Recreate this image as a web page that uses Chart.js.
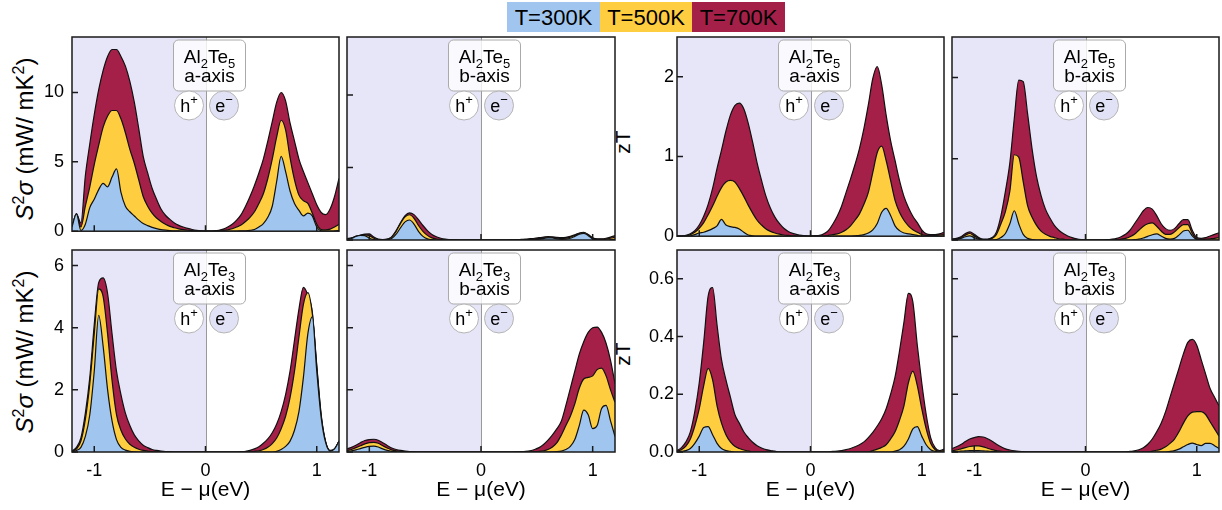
<!DOCTYPE html>
<html>
<head>
<meta charset="utf-8">
<script src="https://cdn.jsdelivr.net/npm/chart.js@4.4.0/dist/chart.umd.min.js"></script>
<style>
  body { margin:0; background:#fff; width:1222px; height:510px; overflow:hidden; position:relative;
         font-family:"Liberation Sans", Arial, Helvetica, sans-serif; color:#000; }
  canvas { position:absolute; }
  #legend { position:absolute; left:507px; top:2px; display:flex; }
  #legend span { display:block; height:30px; line-height:31px; font-size:22px; text-align:center; }
  .yt { position:absolute; white-space:nowrap; transform:translate(-50%,-50%) rotate(-90deg); font-size:21px; }
  .yt.pf { font-size:24px; }
  .yt sup { font-size:16px; vertical-align:0; position:relative; top:-9px; }
</style>
</head>
<body>
<div id="legend"></div>
<div class="yt pf" style="left:25px;top:139px"><i>S</i><sup>2</sup><i>σ</i> (mW/ mK<sup>2</sup>)</div>
<div class="yt pf" style="left:25px;top:352px"><i>S</i><sup>2</sup><i>σ</i> (mW/ mK<sup>2</sup>)</div>
<div class="yt" style="left:623px;top:142px">zT</div>
<div class="yt" style="left:623px;top:354px">zT</div>
<script>
// energy grid (eV), shared by every panel
const energy = [-1.2,-1.16,-1.12,-1.08,-1.04,-1.0,-0.96,-0.92,-0.88,-0.84,
  -0.8,-0.76,-0.72,-0.68,-0.64,-0.6,-0.56,-0.52,-0.48,-0.44,
  -0.4,-0.36,-0.32,-0.28,-0.24,-0.2,-0.16,-0.12,-0.08,-0.04,
  0,0.04,0.08,0.12,0.16,0.2,0.24,0.28,0.32,0.36,
  0.4,0.44,0.48,0.52,0.56,0.6,0.64,0.68,0.72,0.76,
  0.8,0.84,0.88,0.92,0.96,1.0,1.04,1.08,1.12,1.16,1.2];

const temps = ['T=300K', 'T=500K', 'T=700K'];
const xTicks = [-1, 0, 1];
const pfTicksTop = [0, 5, 10];
const ztTicksTop = [0, 1, 2];
const pfTicksBottom = [0, 2, 4, 6];
const ztTicksBottom = [0, 0.2, 0.4, 0.6];

// Al2Te5 a-axis, power factor
const te5aPf300 = [0.3,1.25,0.05,0.5,1.7,2.3,3.0,3.45,3.2,3.9,
  4.5,2.8,1.8,1.4,1.1,0.8,0.55,0.4,0.28,0.18,
  0.12,0.08,0.05,0.03,0.02,0.01,0,0,0,0,
  0,0,0,0,0,0,0.005,0.01,0.02,0.03,
  0.06,0.12,0.3,0.55,1.0,1.8,3.6,5.4,4.3,2.9,
  2.0,1.5,1.1,1.3,1.1,0.3,0.02,0,0,0.02,0.05];
const te5aPf500 = [0.3,1.25,0.3,1.8,3.2,4.8,6.2,7.5,8.3,8.7,
  8.7,8.1,7.1,5.9,4.9,3.7,2.5,1.8,1.3,0.95,
  0.7,0.5,0.35,0.25,0.17,0.11,0.07,0.04,0.02,0.01,
  0,0,0.01,0.02,0.05,0.1,0.18,0.3,0.45,0.7,
  1.0,1.4,2.0,2.7,3.8,5.2,6.8,8.0,7.3,5.3,
  3.7,2.6,2.2,2.0,1.3,0.5,0.12,0.1,0.15,0.3,0.5];
const te5aPf700 = [0.3,1.25,0.6,4.0,6.3,8.4,10.2,11.6,12.6,13.1,
  13.1,12.6,11.9,10.8,9.3,7.4,5.4,4.2,3.1,2.3,
  1.6,1.15,0.85,0.6,0.42,0.3,0.2,0.12,0.06,0.02,
  0,0.01,0.03,0.07,0.15,0.3,0.5,0.8,1.2,1.8,
  2.5,3.3,4.2,5.2,6.5,7.9,9.3,10.0,9.4,7.8,
  6.5,5.2,4.3,3.5,2.7,1.9,1.35,1.2,1.6,2.5,3.8];

// Al2Te5 b-axis, power factor
const te5bPf300 = [0.05,0.1,0.25,0.32,0.3,0.12,0.03,0,0,0.02,
  0.1,0.4,0.85,1.25,1.38,1.1,0.6,0.25,0.08,0.02,
  0,0,0,0,0,0,0,0,0,0,
  0,0,0,0,0,0,0,0,0,0,
  0,0,0.02,0.05,0.1,0.15,0.14,0.08,0.05,0.06,
  0.12,0.25,0.4,0.46,0.3,0.08,0.02,0,0,0.02,0.05];
const te5bPf500 = [0.08,0.12,0.25,0.32,0.35,0.3,0.12,0.03,0.02,0.05,
  0.2,0.6,1.15,1.6,1.74,1.5,1.0,0.6,0.32,0.15,
  0.07,0.03,0.01,0,0,0,0,0,0,0,
  0,0,0,0,0,0,0,0,0,0,
  0.02,0.04,0.06,0.09,0.13,0.17,0.16,0.12,0.1,0.12,
  0.2,0.32,0.45,0.5,0.35,0.12,0.05,0.04,0.06,0.12,0.2];
const te5bPf700 = [0.1,0.15,0.25,0.33,0.4,0.42,0.2,0.06,0.03,0.06,
  0.22,0.65,1.2,1.68,1.87,1.75,1.4,1.0,0.65,0.38,
  0.22,0.12,0.06,0.03,0.01,0,0,0,0,0,
  0,0,0,0,0,0,0,0.01,0.02,0.04,
  0.06,0.09,0.12,0.16,0.2,0.23,0.22,0.18,0.16,0.18,
  0.25,0.36,0.48,0.53,0.38,0.15,0.08,0.08,0.12,0.2,0.3];

// Al2Te5 a-axis, zT
const te5aZt300 = [0,0,0,0.005,0.02,0.04,0.05,0.07,0.095,0.13,
  0.21,0.14,0.12,0.11,0.09,0.05,0.015,0.005,0,0,
  0,0,0,0,0,0,0,0,0,0,
  0,0,0,0,0,0,0,0,0,0,
  0.005,0.01,0.02,0.04,0.08,0.16,0.3,0.35,0.26,0.13,
  0.07,0.04,0.03,0.02,0.01,0,0,0,0,0,0];
const te5aZt500 = [0,0,0.005,0.02,0.05,0.1,0.17,0.27,0.38,0.5,
  0.61,0.68,0.7,0.68,0.6,0.5,0.39,0.29,0.2,0.14,
  0.09,0.06,0.04,0.025,0.015,0.01,0.005,0,0,0,
  0,0,0,0,0.01,0.02,0.03,0.05,0.08,0.13,
  0.2,0.28,0.4,0.55,0.8,1.05,1.13,0.95,0.7,0.45,
  0.3,0.2,0.13,0.08,0.05,0.02,0.01,0.01,0.01,0.015,0.02];
const te5aZt700 = [0,0,0.01,0.03,0.07,0.14,0.25,0.4,0.6,0.85,
  1.08,1.32,1.52,1.64,1.67,1.6,1.42,1.18,0.92,0.7,
  0.5,0.35,0.24,0.16,0.1,0.06,0.035,0.02,0.01,0.004,
  0,0.005,0.01,0.03,0.07,0.15,0.25,0.38,0.55,0.72,
  0.9,1.1,1.35,1.65,1.98,2.13,1.9,1.52,1.2,0.95,
  0.7,0.5,0.36,0.25,0.17,0.08,0.03,0.02,0.02,0.03,0.05];

// Al2Te5 b-axis, zT
const te5bZt300 = [0,0.005,0.02,0.04,0.05,0.03,0.01,0,0,0,
  0.005,0.03,0.08,0.2,0.36,0.2,0.07,0.02,0.005,0,
  0,0,0,0,0,0,0,0,0,0,
  0,0,0,0,0,0,0,0,0,0,
  0,0.005,0.01,0.025,0.045,0.065,0.075,0.05,0.02,0.01,
  0.02,0.06,0.11,0.12,0.05,0.005,0,0,0,0,0];
const te5bZt500 = [0.01,0.01,0.03,0.06,0.08,0.05,0.02,0.005,0.005,0.02,
  0.07,0.2,0.35,0.6,1.05,1.02,0.72,0.42,0.28,0.18,
  0.11,0.07,0.045,0.03,0.015,0.01,0,0,0,0,
  0,0,0,0,0,0,0,0,0.01,0.02,
  0.04,0.07,0.12,0.17,0.2,0.21,0.17,0.11,0.07,0.07,
  0.1,0.15,0.19,0.19,0.08,0.01,0.005,0.01,0.015,0.02,0.03];
const te5bZt700 = [0.01,0.02,0.04,0.08,0.1,0.07,0.03,0.01,0.01,0.03,
  0.1,0.3,0.6,0.95,1.5,1.97,1.95,1.55,1.12,0.78,
  0.55,0.38,0.27,0.18,0.12,0.08,0.05,0.03,0.015,0.005,
  0,0,0,0,0,0.005,0.01,0.02,0.04,0.07,
  0.12,0.2,0.28,0.36,0.4,0.38,0.3,0.2,0.14,0.12,
  0.14,0.2,0.25,0.25,0.12,0.03,0.02,0.03,0.05,0.07,0.09];

// Al2Te3 a-axis, power factor
const te3aPf300 = [0.01,0.05,0.15,0.5,1.2,2.6,4.4,3.4,2.0,1.0,
  0.4,0.15,0.06,0.02,0.005,0,0,0,0,0,
  0,0,0,0,0,0,0,0,0,0,
  0,0,0,0,0,0,0,0,0,0,
  0,0,0,0,0,0,0.02,0.08,0.18,0.35,
  0.7,1.3,2.4,3.8,4.35,2.6,1.1,0.3,0.03,0.1,0.35];
const te3aPf500 = [0.02,0.1,0.35,1.05,2.2,3.8,5.25,5.0,3.8,2.3,
  1.2,0.7,0.42,0.25,0.15,0.09,0.05,0.03,0.015,0,
  0,0,0,0,0,0,0,0,0,0,
  0,0,0,0,0,0,0,0,0,0,
  0,0.02,0.04,0.08,0.15,0.27,0.45,0.75,1.15,1.75,
  2.6,3.7,4.75,5.13,4.45,2.75,1.15,0.32,0.04,0.1,0.35];
const te3aPf700 = [0.03,0.15,0.45,1.25,2.4,4.1,5.45,5.6,5.1,3.8,
  2.6,1.85,1.25,0.85,0.55,0.36,0.22,0.14,0.08,0.05,
  0.03,0.015,0.008,0,0,0,0,0,0,0,
  0,0,0,0,0,0,0,0,0.01,0.02,
  0.05,0.1,0.17,0.28,0.42,0.62,0.9,1.3,1.85,2.6,
  3.6,4.6,5.3,5.05,4.5,2.8,1.2,0.33,0.05,0.1,0.35];

// Al2Te3 b-axis, power factor
const te3bPf300 = [0.02,0.04,0.07,0.11,0.15,0.18,0.19,0.16,0.1,0.05,
  0.02,0.01,0,0,0,0,0,0,0,0,
  0,0,0,0,0,0,0,0,0,0,
  0,0,0,0,0,0,0,0,0,0,
  0,0,0,0,0,0,0.005,0.01,0.03,0.08,
  0.18,0.4,0.85,1.35,1.2,0.75,0.85,1.4,1.5,1.0,0.5];
const te3bPf500 = [0.05,0.08,0.14,0.2,0.26,0.3,0.31,0.28,0.2,0.13,
  0.07,0.04,0.02,0.01,0,0,0,0,0,0,
  0,0,0,0,0,0,0,0,0,0,
  0,0,0,0,0,0,0,0,0,0,
  0,0.005,0.01,0.02,0.04,0.08,0.16,0.3,0.55,0.85,
  1.15,1.55,2.05,2.35,2.4,2.45,2.65,2.7,2.45,2.0,1.6];
const te3bPf700 = [0.1,0.15,0.22,0.3,0.37,0.4,0.41,0.38,0.3,0.21,
  0.13,0.08,0.05,0.03,0.015,0.008,0,0,0,0,
  0,0,0,0,0,0,0,0,0,0,
  0,0,0,0,0,0,0,0,0.005,0.01,
  0.02,0.04,0.08,0.14,0.24,0.38,0.55,0.75,1.0,1.5,
  2.05,2.6,3.15,3.55,3.85,4.0,4.02,3.85,3.5,2.95,2.2];

// Al2Te3 a-axis, zT
const te3aZt300 = [0,0.002,0.005,0.012,0.03,0.055,0.085,0.088,0.06,0.03,
  0.012,0.005,0.002,0,0,0,0,0,0,0,
  0,0,0,0,0,0,0,0,0,0,
  0,0,0,0,0,0,0,0,0,0,
  0,0,0,0,0,0,0,0,0,0.003,
  0.008,0.02,0.045,0.08,0.088,0.055,0.025,0.008,0.002,0,0];
const te3aZt500 = [0.002,0.008,0.02,0.045,0.09,0.15,0.23,0.29,0.25,0.16,
  0.1,0.06,0.035,0.02,0.012,0.007,0.004,0,0,0,
  0,0,0,0,0,0,0,0,0,0,
  0,0,0,0,0,0,0,0,0,0,
  0,0,0,0,0.005,0.01,0.016,0.025,0.045,0.07,
  0.11,0.16,0.24,0.28,0.23,0.15,0.08,0.03,0.008,0.003,0.005];
const te3aZt700 = [0.005,0.015,0.035,0.07,0.14,0.24,0.38,0.54,0.57,0.44,
  0.32,0.25,0.19,0.13,0.1,0.07,0.05,0.034,0.022,0.014,
  0.008,0.005,0.003,0,0,0,0,0,0,0,
  0,0,0,0,0,0.002,0.003,0.005,0.008,0.012,
  0.018,0.025,0.035,0.05,0.068,0.09,0.115,0.15,0.2,0.26,
  0.35,0.45,0.55,0.52,0.37,0.24,0.13,0.05,0.015,0.005,0.01];

// Al2Te3 b-axis, zT
const te3bZt300 = [0.001,0.002,0.003,0.004,0.005,0.005,0.005,0.004,0.003,0.002,
  0.001,0,0,0,0,0,0,0,0,0,
  0,0,0,0,0,0,0,0,0,0,
  0,0,0,0,0,0,0,0,0,0,
  0,0,0,0,0,0,0,0,0,0.002,
  0.005,0.01,0.018,0.026,0.031,0.026,0.022,0.03,0.03,0.022,0.012];
const te3bZt500 = [0.004,0.007,0.011,0.015,0.019,0.021,0.021,0.018,0.013,0.008,
  0.005,0.002,0.001,0,0,0,0,0,0,0,
  0,0,0,0,0,0,0,0,0,0,
  0,0,0,0,0,0,0,0,0,0,
  0,0,0,0,0,0.003,0.006,0.01,0.018,0.03,
  0.045,0.07,0.1,0.125,0.138,0.14,0.14,0.13,0.105,0.08,0.055];
const te3bZt700 = [0.012,0.018,0.026,0.036,0.045,0.05,0.053,0.052,0.046,0.037,
  0.027,0.018,0.011,0.007,0.004,0.002,0.001,0,0,0,
  0,0,0,0,0,0,0,0,0,0,
  0,0,0,0,0,0,0,0,0,0,
  0.002,0.004,0.008,0.015,0.027,0.045,0.07,0.1,0.14,0.19,
  0.24,0.29,0.34,0.38,0.39,0.37,0.32,0.27,0.22,0.19,0.16];

const te5Name = [{t:'Al'}, {t:'2', sub:true}, {t:'Te'}, {t:'5', sub:true}];
const te3Name = [{t:'Al'}, {t:'2', sub:true}, {t:'Te'}, {t:'3', sub:true}];

const fills = ['#a0c6f0', '#ffcd40', '#a52048'];
const holeShade = '#e6e6f8';
const FONT = '"Liberation Sans", Arial, Helvetica, sans-serif';

Chart.defaults.font.family = FONT;
Chart.defaults.color = '#000';

// legend strip
const legendW = [93, 92, 93];
const legend = document.getElementById('legend');
temps.forEach((t, i) => {
  const s = document.createElement('span');
  s.textContent = t;
  s.style.background = fills[i];
  s.style.width = legendW[i] + 'px';
  legend.appendChild(s);
});

const panels = [
  {x:72,  y:37,  w:267, h:203, ymax:14,  yt:pfTicksTop, name:te5Name, axis:'a-axis', showY:true,  pad:8, bottom:false,
   series:[te5aPf300, te5aPf500, te5aPf700]},
  {x:347, y:37,  w:268, h:203, ymax:14,  yt:pfTicksTop, name:te5Name, axis:'b-axis', showY:false, pad:8, bottom:false,
   series:[te5bPf300, te5bPf500, te5bPf700]},
  {x:677, y:37,  w:267, h:203, ymax:2.5, yt:ztTicksTop, name:te5Name, axis:'a-axis', showY:true,  pad:3, bottom:false,
   series:[te5aZt300, te5aZt500, te5aZt700]},
  {x:952, y:37,  w:267, h:203, ymax:2.5, yt:ztTicksTop, name:te5Name, axis:'b-axis', showY:false, pad:3, bottom:false,
   series:[te5bZt300, te5bZt500, te5bZt700]},
  {x:72,  y:250, w:267, h:202, ymax:6.5, yt:pfTicksBottom, name:te3Name, axis:'a-axis', showY:true,  pad:8, bottom:true,
   series:[te3aPf300, te3aPf500, te3aPf700]},
  {x:347, y:250, w:268, h:202, ymax:6.5, yt:pfTicksBottom, name:te3Name, axis:'b-axis', showY:false, pad:8, bottom:true,
   series:[te3bPf300, te3bPf500, te3bPf700]},
  {x:677, y:250, w:267, h:202, ymax:0.7, yt:ztTicksBottom, name:te3Name, axis:'a-axis', showY:true,  pad:3, bottom:true, dec:1,
   series:[te3aZt300, te3aZt500, te3aZt700]},
  {x:952, y:250, w:267, h:202, ymax:0.7, yt:ztTicksBottom, name:te3Name, axis:'b-axis', showY:false, pad:3, bottom:true, dec:1,
   series:[te3bZt300, te3bZt500, te3bZt700]}
];

function drawRuns(ctx, runs, cx, base, size) {
  const big = size + 'px ' + FONT, small = Math.round(size * 0.7) + 'px ' + FONT;
  let total = 0;
  const w = runs.map(r => { ctx.font = r.sub || r.sup ? small : big; const m = ctx.measureText(r.t).width; total += m; return m; });
  let xx = cx - total / 2;
  runs.forEach((r, i) => {
    ctx.font = r.sub || r.sup ? small : big;
    const dy = r.sub ? size * 0.27 : r.sup ? -size * 0.4 : 0;
    ctx.fillText(r.t, xx, base + dy);
    xx += w[i];
  });
}

function makeDeco(p) {
  return {
    id: 'deco',
    beforeDatasetsDraw(chart) {
      const {ctx, chartArea: a} = chart;
      const x0 = Math.round(chart.scales.x.getPixelForValue(0)) + 0.5;
      ctx.save();
      ctx.fillStyle = holeShade;
      ctx.fillRect(a.left, a.top, x0 - a.left, a.bottom - a.top);
      ctx.strokeStyle = '#9a9a9a';
      ctx.lineWidth = 1;
      ctx.beginPath(); ctx.moveTo(x0, a.top); ctx.lineTo(x0, a.bottom); ctx.stroke();
      ctx.restore();
    },
    afterDatasetsDraw(chart) {
      const {ctx, chartArea: a, scales: {x, y}} = chart;
      const x0 = Math.round(x.getPixelForValue(0)) + 0.5;
      ctx.save();
      // frame + inward ticks
      ctx.strokeStyle = '#1a1a1a';
      ctx.lineWidth = 1.5;
      ctx.strokeRect(a.left, a.top, a.right - a.left, a.bottom - a.top);
      ctx.beginPath();
      xTicks.forEach(v => { const px = x.getPixelForValue(v); ctx.moveTo(px, a.bottom); ctx.lineTo(px, a.bottom - 6); });
      p.yt.forEach(v => { const py = y.getPixelForValue(v); ctx.moveTo(a.left, py); ctx.lineTo(a.left + 6, py); });
      ctx.stroke();

      // compound / axis label box
      const bx = x0 - 33, by = a.top + 3, bw = 72, bh = 51;
      ctx.beginPath();
      ctx.roundRect(bx, by, bw, bh, 5);
      ctx.fillStyle = 'rgba(255,255,255,0.8)';
      ctx.fill();
      ctx.strokeStyle = '#aaaaaa';
      ctx.lineWidth = 1;
      ctx.stroke();
      ctx.fillStyle = '#000';
      ctx.textAlign = 'left';
      ctx.textBaseline = 'alphabetic';
      drawRuns(ctx, p.name, x0 + 3, by + 23, 19);
      drawRuns(ctx, [{t:p.axis}], x0 + 3, by + 42, 19);

      // carrier circles
      const cy = a.top + 68.5;
      [[x0 - 17.5, '#ffffff', 'h', '+'], [x0 + 17.5, '#e2e2f6', 'e', '\u2212']].forEach(c => {
        ctx.beginPath();
        ctx.arc(c[0], cy, 14.5, 0, Math.PI * 2);
        ctx.fillStyle = c[1];
        ctx.fill();
        ctx.strokeStyle = '#b5b5b5';
        ctx.stroke();
        ctx.fillStyle = '#000';
        drawRuns(ctx, [{t:c[2]}, {t:c[3], sup:true}], c[0], cy + 6, 18);
      });
      ctx.restore();
    }
  };
}

const M = {l: 60, t: 24, r: 6};

panels.forEach(p => {
  const bm = p.bottom ? 51 : 10;
  const cw = p.w + M.l + M.r, ch = p.h + M.t + bm;
  const c = document.createElement('canvas');
  c.width = cw; c.height = ch;
  c.style.left = (p.x - M.l) + 'px';
  c.style.top = (p.y - M.t) + 'px';
  c.style.width = cw + 'px';
  c.style.height = ch + 'px';
  document.body.appendChild(c);

  new Chart(c.getContext('2d'), {
    type: 'line',
    data: {
      datasets: p.series.map((s, i) => ({
        label: temps[i],
        data: energy.map((e, k) => ({x: e, y: s[k]})),
        backgroundColor: fills[i],
        borderColor: '#111',
        borderWidth: 1.2,
        fill: 'origin',
        pointRadius: 0,
        cubicInterpolationMode: 'monotone'
      }))
    },
    options: {
      responsive: false,
      animation: false,
      devicePixelRatio: 1,
      layout: { padding: { left: 0, top: M.t, right: M.r, bottom: 0 } },
      plugins: { legend: { display: false }, tooltip: { enabled: false } },
      scales: {
        x: {
          type: 'linear', min: -1.2, max: 1.2,
          grid: { display: false, drawTicks: false },
          border: { display: false },
          afterBuildTicks: s => { s.ticks = xTicks.map(v => ({value: v})); },
          afterFit: s => { s.height = bm; },
          ticks: { display: p.bottom, padding: 8, font: { size: 18 }, color: '#000', maxRotation: 0, autoSkip: false,
                   callback: v => String(v) },
          title: { display: p.bottom, text: 'E \u2212 \u03bc(eV)', font: { size: 21 }, color: '#000', padding: 0 }
        },
        y: {
          type: 'linear', min: 0, max: p.ymax,
          grid: { display: false, drawTicks: false },
          border: { display: false },
          afterBuildTicks: s => { s.ticks = p.yt.map(v => ({value: v})); },
          afterFit: s => { s.width = M.l; },
          ticks: { display: p.showY, padding: p.pad, font: { size: 18 }, color: '#000',
                   callback: v => p.dec ? v.toFixed(p.dec) : String(v) }
        }
      }
    },
    plugins: [makeDeco(p)]
  });
});
</script>
</body>
</html>
